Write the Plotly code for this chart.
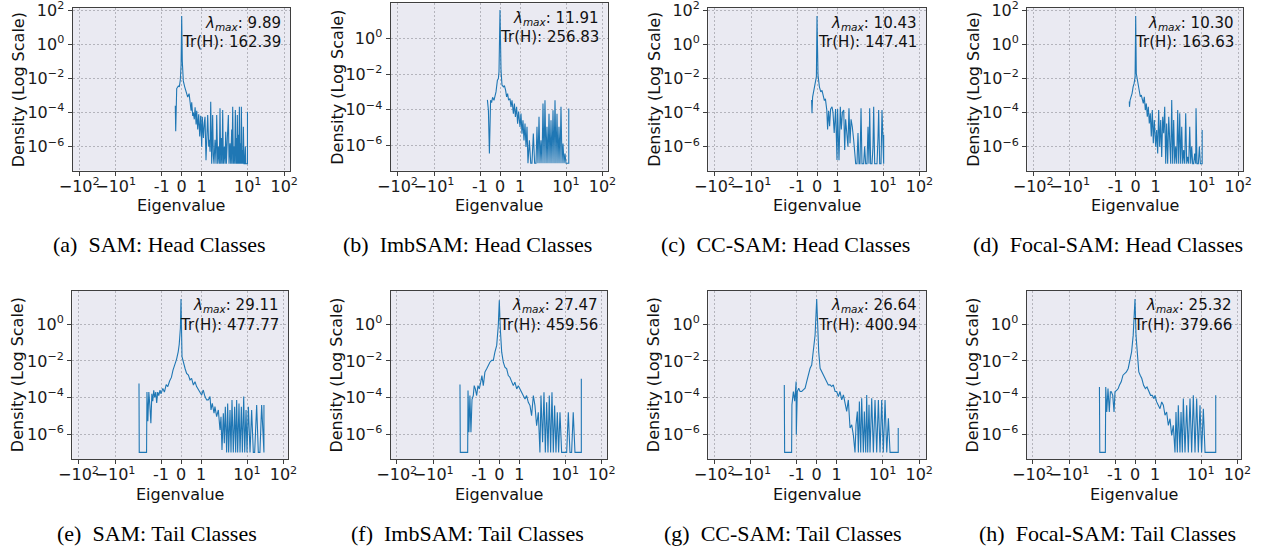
import numpy as np
import plotly.graph_objects as go

W, H = 1264, 553

# ---------------- data (eigenvalue, log10 density) ----------------
# (a) SAM: Head Classes
xa = [-0.32, -0.30, -0.25, -0.17, -0.12, -0.07, -0.03, 0.0, 0.03, 0.08,
      0.15, 0.22, 0.30, 0.37, 0.42, 0.47, 0.50, 0.55, 0.58, 0.63,
      0.67, 0.72, 0.75, 0.80, 0.85, 0.90, 0.95, 1.0,
      1.03, 1.09, 1.14, 1.18, 1.24, 1.31, 1.35, 1.42, 1.47, 1.52,
      1.57, 1.65, 1.73, 1.79, 1.85, 1.95, 2.05, 2.12, 2.23, 2.30,
      2.42, 2.50, 2.59, 2.68, 2.77, 2.86, 2.96, 3.11, 3.21, 3.33,
      3.44, 3.61, 3.80, 3.93, 4.13, 4.27, 4.49, 4.56, 4.72, 4.88,
      5.04, 5.22, 5.39, 5.57, 5.77, 5.86, 5.95, 6.16, 6.37, 6.47,
      6.59, 6.81, 7.04, 7.16, 7.28, 7.53, 7.78, 7.91, 8.05, 8.32,
      8.60, 8.90, 9.05, 9.51, 9.89, 9.89]
ya = [-3.6, -5.1, -2.6, -2.45, -2.5, -2.1, -1.2, 1.65, -1.0, -2.15,
      -2.5, -2.8, -3.1, -2.9, -3.7, -3.9, -3.4, -4.2, -4.0, -4.4,
      -3.7, -4.7, -3.9, -5.0, -4.1, -5.4, -4.2, -6.0,
      -4.25, -5.5, -4.6, -4.25, -6.8, -4.8, -4.15, -6.0, -5.6, -6.3,
      -3.37, -7, -4.15, -6.5, -7, -5.6, -7, -4.15, -7, -6.0,
      -7, -3.76, -7, -5.5, -7, -3.86, -7, -6.0, -7, -5.13,
      -7, -5.5, -4.15, -7, -5.8, -7, -5.0, -7, -3.67, -7,
      -6.0, -7, -3.86, -7, -5.5, -7, -4.15, -7, -5.3, -7,
      -3.67, -7, -5.8, -7, -3.67, -7, -6.2, -7, -4.84, -7,
      -7, -6.0, -7, -7, -7, -3.96]

# (b) ImbSAM: Head Classes
xb = [-0.63, -0.58, -0.53, -0.47, -0.42, -0.37, -0.30, -0.25, -0.20, -0.13,
      -0.08, -0.05, 0.0, 0.05, 0.10, 0.17, 0.22, 0.28, 0.33, 0.38,
      0.43, 0.50, 0.55, 0.60, 0.67, 0.72, 0.77, 0.83, 0.88, 0.93,
      1.0,
      1.05, 1.105, 1.16, 1.22, 1.285, 1.35, 1.42, 1.49, 1.60, 1.71,
      1.82, 1.95, 2.08, 2.23, 2.34, 2.46, 2.59, 2.72, 2.86, 3.01,
      3.16, 3.33, 3.49, 3.68, 3.86, 4.06, 4.27, 4.49, 4.72, 4.96,
      5.22, 5.49, 5.77, 6.06, 6.37, 6.70, 7.04, 7.41, 7.78, 8.19,
      8.60, 9.05, 9.51, 10.0, 10.88, 11.91, 11.91]
yb = [-3.45, -4.03, -6.46, -3.47, -3.6, -3.3, -3.47, -3.28, -3.0, -2.34,
      -2.25, -1.87, 1.59, -1.78, -2.62, -2.72, -2.65, -2.9, -3.28, -3.1,
      -3.47, -3.37, -3.84, -3.47, -4.22, -3.65, -4.4, -3.84, -4.78, -4.1,
      -4.96,
      -4.22, -5.34, -4.59, -5.72, -4.78, -6.09, -4.96, -7, -5.72, -7,
      -7, -5.34, -7, -7, -4.96, -7, -4.4, -7, -5.72, -7,
      -3.65, -7, -3.47, -7, -4.96, -7, -4.22, -7, -4.59, -7,
      -4.03, -7, -3.47, -7, -4.22, -7, -4.96, -7, -3.84, -7,
      -5.9, -7, -6.46, -7, -7, -7, -3.93]

# (c) CC-SAM: Head Classes
xc = [-0.27, -0.25, -0.22, -0.15, -0.08, -0.03, 0.0, 0.05, 0.12, 0.19,
      0.25, 0.32, 0.37, 0.42, 0.49, 0.53, 0.58, 0.63, 0.68, 0.75,
      0.80, 0.86, 0.93, 1.0,
      1.03, 1.105, 1.18, 1.24, 1.31, 1.40, 1.47, 1.54, 1.65, 1.73,
      1.82, 1.92, 2.02, 2.15, 2.30, 2.42, 2.55, 2.72, 2.86, 3.01,
      3.16, 3.33, 3.49, 3.80, 3.99, 4.20, 4.49, 4.72, 4.96, 5.13,
      5.39, 5.77, 6.06, 6.27, 6.59, 6.92, 7.41, 7.78, 8.05, 8.46,
      9.05, 9.51, 10.0, 10.43, 10.43]
yc = [-3.27, -4.05, -3.1, -2.7, -2.4, -1.9, 1.65, -1.8, -2.5, -2.8,
      -2.7, -3.1, -3.3, -3.2, -3.86, -5.0, -3.9, -4.8, -3.8, -3.67,
      -4.0, -5.2, -3.8, -6.78,
      -3.8, -6.8, -3.67, -5.0, -4.0, -3.86, -6.2, -4.4, -5.22, -6.0,
      -3.76, -5.8, -4.4, -4.84, -5.6, -6.5, -7, -7, -5.2, -7,
      -7, -3.76, -7, -7, -6.0, -7, -7, -4.84, -7, -3.76,
      -7, -7, -6.0, -3.67, -7, -7, -7, -5.5, -3.86, -7,
      -7, -3.86, -7, -7, -5.3]

# (d) Focal-SAM: Head Classes
xd = [-0.32, -0.31, -0.28, -0.23, -0.18, -0.13, -0.08, -0.03, 0.0, 0.03,
      0.08, 0.13, 0.18, 0.23, 0.28, 0.33, 0.38, 0.43, 0.48, 0.53,
      0.58, 0.63, 0.68, 0.73, 0.78, 0.83, 0.88, 0.93, 1.0,
      1.05, 1.105, 1.16, 1.22, 1.285, 1.35, 1.42, 1.49, 1.57, 1.65,
      1.73, 1.82, 1.92, 2.02, 2.12, 2.23, 2.34, 2.46, 2.59, 2.72,
      2.86, 3.01, 3.16, 3.33, 3.49, 3.68, 3.86, 4.06, 4.27, 4.49,
      4.72, 4.96, 5.22, 5.49, 5.77, 6.06, 6.37, 6.70, 7.04, 7.41,
      7.53, 7.91, 8.46, 8.90, 9.36, 9.80, 10.30, 10.30]
yd = [-3.35, -3.67, -3.27, -3.08, -2.88, -2.5, -2.3, -1.91, 1.65, -1.72,
      -2.1, -2.55, -2.79, -3.08, -2.98, -3.27, -3.47, -3.08, -3.86, -3.47,
      -4.25, -3.67, -4.64, -4.05, -5.41, -3.86, -5.8, -4.44, -6.0,
      -5.03, -6.4, -3.86, -6.0, -4.44, -6.6, -4.25, -5.22, -3.67, -7,
      -4.64, -7, -4.25, -6.2, -7, -3.27, -7, -4.44, -7, -6.0,
      -7, -3.86, -7, -4.05, -7, -4.84, -7, -6.2, -7, -4.05,
      -7, -6.6, -7, -4.84, -7, -6.0, -7, -7, -6.4, -7,
      -3.76, -7, -7, -6.0, -7, -7, -7, -5.03]

# (e) SAM: Tail Classes
xe = [-3.01, -2.97, -2.06, -2.02, -1.93, -1.84, -1.75, -1.66, -1.58, -1.51,
      -1.44, -1.37, -1.30, -1.24, -1.18, -1.12, -1.05, -1.0, -0.91, -0.83,
      -0.74, -0.66, -0.57, -0.48, -0.40, -0.31, -0.22, -0.14, -0.09, -0.03,
      0.0,
      0.05, 0.12, 0.20, 0.28, 0.37, 0.45, 0.53, 0.62, 0.70,
      0.78, 0.87, 0.95, 1.03, 1.12, 1.22, 1.33, 1.44, 1.57, 1.65,
      1.76, 1.92, 2.01, 2.19, 2.38, 2.59, 2.72, 2.86, 3.06, 3.21,
      3.38, 3.61, 3.80, 3.99, 4.27, 4.49, 4.72, 5.04, 5.39, 5.67,
      5.96, 6.27, 6.70, 7.05, 7.54, 7.93, 8.48, 8.92, 9.53, 10.0,
      10.9, 12.1, 13.4, 14.9, 16.2, 18.4, 20.4, 22.6, 25.2, 28.0,
      29.11, 29.11]
ye = [-3.23, -7, -7, -3.7, -5.3, -3.7, -4.4, -5.4, -3.8, -4.2,
      -3.6, -4.0, -3.7, -4.3, -3.7, -3.9, -3.6, -3.8, -3.5, -3.7,
      -3.3, -3.4, -3.1, -2.9, -2.5, -2.2, -1.9, -1.5, -1.1, -0.2,
      1.38,
      -1.77, -2.13, -2.4, -2.68, -2.77, -3.04, -2.95, -3.32, -3.13,
      -3.4, -3.59, -3.77, -3.86, -3.59, -3.95, -4.13, -4.13, -3.95, -4.68,
      -4.32, -4.86, -4.5, -5.05, -4.68, -5.77, -5.05, -6.87, -4.86, -6.5,
      -4.5, -7, -4.32, -7, -4.68, -7, -4.13, -7, -4.5, -7,
      -4.13, -7, -4.32, -7, -4.5, -7, -3.95, -7, -4.68, -7,
      -4.5, -7, -4.68, -7, -7, -4.41, -7, -7, -4.41, -7,
      -7, -4.41]

# (f) ImbSAM: Tail Classes
xf = [-2.63, -2.59, -1.79, -1.76, -1.68, -1.60, -1.52, -1.44, -1.35, -1.29,
      -1.22, -1.14, -1.07, -1.0, -0.93, -0.87, -0.80, -0.72, -0.63, -0.55,
      -0.47, -0.38, -0.30, -0.22, -0.13, -0.05, 0.0, 0.05, 0.12, 0.20,
      0.28, 0.37, 0.45, 0.53, 0.62, 0.70, 0.78, 0.87, 0.95, 1.03,
      1.12, 1.22, 1.33, 1.44, 1.57, 1.71, 1.85, 2.02, 2.19, 2.38,
      2.59, 2.81, 2.96, 3.21, 3.44, 3.68, 3.93, 4.20, 4.49, 4.80,
      5.13, 5.49, 5.86, 6.27, 6.70, 7.16, 7.66, 8.32, 9.05, 9.84,
      10.9, 12.1, 13.4, 14.9, 16.5, 18.4, 20.4, 22.7, 25.2, 27.47,
      27.47]
yf = [-3.29, -7, -7, -3.62, -5.9, -3.89, -5.9, -4.1, -3.89, -3.35,
      -3.53, -3.89, -3.35, -3.53, -3.16, -2.8, -3.35, -2.61, -2.43, -2.25,
      -2.07, -1.97, -1.97, -1.52, -1.15, -0.05, 1.32, -0.24, -1.52, -2.07,
      -2.34, -2.43, -2.8, -2.89, -3.16, -3.35, -3.16, -3.53, -3.35, -3.53,
      -3.71, -3.89, -4.08, -3.89, -4.26, -4.44, -4.99, -3.89, -4.44, -5.54,
      -4.81, -7, -3.89, -6.45, -3.71, -7, -4.26, -7, -3.89, -7,
      -3.71, -7, -4.44, -7, -4.81, -7, -4.81, -7, -7, -7,
      -7, -4.81, -7, -7, -4.81, -7, -7, -7, -7, -7,
      -2.98]

# (g) CC-SAM: Tail Classes
xg = [-1.86, -1.83, -1.29, -1.27, -1.18, -1.105, -1.03, -1.02, -0.97, -0.90,
      -0.83, -0.75, -0.67, -0.58, -0.50, -0.42, -0.33, -0.25, -0.17, -0.08,
      0.0, 0.05, 0.10, 0.17, 0.25, 0.33, 0.42, 0.50, 0.58, 0.67,
      0.75, 0.83, 0.92, 1.0, 1.087, 1.18, 1.285, 1.40, 1.52, 1.65,
      1.79, 1.95, 2.12, 2.30, 2.50, 2.63, 2.81, 2.96, 3.11, 3.33,
      3.49, 3.80, 3.99, 4.27, 4.49, 4.72, 5.04, 5.30, 5.77, 6.27,
      6.81, 7.41, 8.05, 8.75, 9.51, 10.4, 11.6, 12.9, 14.3, 15.9,
      19.6, 24.2, 26.64, 26.64]
yg = [-3.31, -7, -7, -4.4, -3.67, -4.2, -3.13, -6.04, -3.67, -3.49,
      -3.67, -3.67, -3.58, -3.49, -3.13, -2.76, -2.4, -2.22, -1.49, -0.58,
      1.38, -0.58, -1.49, -2.4, -2.58, -2.76, -2.95, -3.13, -3.31, -3.31,
      -3.4, -3.31, -3.67, -3.67, -3.95, -3.67, -4.13, -3.86, -4.4, -4.76,
      -4.13, -5.67, -5.49, -6.04, -7, -5.49, -4.76, -7, -4.22, -7,
      -4.04, -7, -4.76, -7, -3.86, -7, -4.4, -7, -4.04, -7,
      -4.13, -7, -4.13, -7, -4.13, -7, -4.13, -7, -5.13, -7,
      -7, -7, -7, -5.67]

# (h) Focal-SAM: Tail Classes
xh = [-2.18, -2.14, -1.62, -1.59, -1.51, -1.42, -1.33, -1.26, -1.20, -1.12,
      -1.05, -1.0, -0.91, -0.84, -0.78, -0.69, -0.60, -0.52, -0.43, -0.34,
      -0.26, -0.17, -0.09, 0.0, 0.05, 0.12, 0.19, 0.26, 0.34, 0.43,
      0.52, 0.60, 0.69, 0.78, 0.86, 0.95, 1.0, 1.087, 1.18, 1.285,
      1.40, 1.52, 1.65, 1.79, 1.95, 2.12, 2.30, 2.50, 2.72, 2.86,
      3.06, 3.21, 3.49, 3.68, 3.93, 4.13, 4.49, 4.88, 5.30, 5.77,
      6.27, 6.81, 7.41, 8.05, 8.75, 9.51, 10.4, 11.6, 12.9, 14.3,
      17.7, 21.8, 25.32, 25.32]
yh = [-3.42, -7, -7, -3.42, -4.79, -3.51, -4.79, -3.69, -3.69, -3.88,
      -4.79, -3.69, -3.6, -3.51, -3.33, -3.14, -2.78, -2.69, -2.6, -2.41,
      -2.05, -1.5, -0.59, 1.39, -0.59, -1.86, -2.6, -2.78, -2.96, -3.33,
      -3.51, -3.42, -3.69, -3.88, -3.88, -4.06, -3.88, -4.24, -4.42, -4.61,
      -4.24, -4.42, -4.97, -4.79, -5.52, -5.16, -6.07, -5.52, -7, -4.79,
      -7, -4.42, -7, -4.79, -7, -4.06, -7, -4.42, -7, -4.06,
      -7, -3.88, -7, -4.06, -7, -4.42, -7, -4.61, -7, -7,
      -7, -7, -7, -3.88]

lam_max = ["9.89", "11.91", "10.43", "10.30", "29.11", "27.47", "26.64", "25.32"]
trace_h = ["162.39", "256.83", "147.41", "163.63", "477.77", "459.56", "400.94", "379.66"]
captions = ["(a)\u00a0 SAM: Head Classes", "(b)\u00a0 ImbSAM: Head Classes",
            "(c)\u00a0 CC-SAM: Head Classes", "(d)\u00a0 Focal-SAM: Head Classes",
            "(e)\u00a0 SAM: Tail Classes", "(f)\u00a0 ImbSAM: Tail Classes",
            "(g)\u00a0 CC-SAM: Tail Classes", "(h)\u00a0 Focal-SAM: Tail Classes"]

x_tick_values = [-100, -10, -1, 0, 1, 10, 100]
x_tick_text = ["\u221210<sup>2</sup>", "\u221210<sup>1</sup>", "-1", "0", "1",
               "10<sup>1</sup>", "10<sup>2</sup>"]


# symmetric-log style transform of the eigenvalue axis (as in the figure)
def sym(v):
    v = np.asarray(v, dtype=float)
    a = np.abs(v)
    la = np.log10(np.maximum(a, 1.0))
    u = np.where(a <= 1, 20 * a, np.where(a <= 10, 20 + 46 * la, 66 + 36.5 * (la - 1)))
    return np.sign(v) * u


series = [(xa, ya), (xb, yb), (xc, yc), (xd, yd), (xe, ye), (xf, yf), (xg, yg), (xh, yh)]

# layout geometry (pixels): left, right, zero-x, top, bottom, y-range(log), y-ticks, caption x
geo = [
    (72.7, 290.0, 181.7, 8.3, 170.7, [-7.41, 2.10], [2, 0, -2, -4, -6], 159),
    (390.7, 607.7, 500.0, 3.3, 170.7, [-7.42, 1.97], [0, -2, -4, -6], 468),
    (708.3, 926.0, 817.0, 8.3, 170.7, [-7.41, 2.10], [2, 0, -2, -4, -6], 785),
    (1027.3, 1243.3, 1135.7, 8.3, 170.7, [-7.41, 2.10], [2, 0, -2, -4, -6], 1108),
    (72.3, 288.3, 181.0, 290.7, 459.0, [-7.36, 1.84], [0, -2, -4, -6], 157),
    (390.7, 607.3, 499.3, 290.7, 459.0, [-7.36, 1.84], [0, -2, -4, -6], 468),
    (708.3, 926.0, 816.7, 290.7, 459.0, [-7.36, 1.84], [0, -2, -4, -6], 783),
    (1026.7, 1241.0, 1135.0, 290.7, 459.0, [-7.36, 1.84], [0, -2, -4, -6], 1107),
]

AX = "#3f3f3f"
fig = go.Figure()
layout = {}
annotations = []
for i, ((xs, ys), g) in enumerate(zip(series, geo)):
    k = i + 1
    L, R, Z, T, B, yr, yt, capx = g
    xn = "x" if k == 1 else f"x{k}"
    yn = "y" if k == 1 else f"y{k}"
    fig.add_trace(go.Scatter(
        x=sym(xs), y=10 ** np.asarray(ys, dtype=float), mode="lines",
        line=dict(color="#1f77b4", width=1.1), xaxis=xn, yaxis=yn,
        showlegend=False, hoverinfo="skip"))
    common = dict(showline=True, mirror=True, linecolor=AX, linewidth=1.4,
                  ticks="outside", ticklen=4, tickwidth=1, tickcolor=AX,
                  showgrid=True, gridcolor="#b4b4bc", griddash="2px,2px", gridwidth=0.7,
                  zeroline=False, tickangle=0, automargin=False,
                  tickfont=dict(size=16, color="#1a1a1a"))
    layout["xaxis" if k == 1 else f"xaxis{k}"] = dict(
        domain=[L / W, R / W], range=[L - Z, R - Z], anchor=yn,
        tickmode="array", tickvals=list(sym(x_tick_values)), ticktext=x_tick_text,
        ticklabelstandoff=-3, **common)
    layout["yaxis" if k == 1 else f"yaxis{k}"] = dict(
        domain=[1 - B / H, 1 - T / H], type="log", range=yr, anchor=xn,
        tickmode="array", tickvals=[10.0 ** e for e in yt],
        ticktext=[("10<sup>%s</sup>" % (str(e).replace("-", "\u2212"))) for e in yt],
        **common)
    # stats text
    annotations.append(dict(xref=f"{xn} domain", yref=f"{yn} domain", x=1, y=1,
                            xanchor="right", yanchor="middle", xshift=-7, yshift=-15,
                            text=f"<i>\u03bb</i><sub><i>max</i></sub>: {lam_max[i]}",
                            showarrow=False, font=dict(size=15, color="#111")))
    annotations.append(dict(xref=f"{xn} domain", yref=f"{yn} domain", x=1, y=1,
                            xanchor="right", yanchor="middle", xshift=-7, yshift=-34,
                            text=f"Tr(H): {trace_h[i]}",
                            showarrow=False, font=dict(size=15, color="#111")))
    # axis titles
    annotations.append(dict(xref="paper", yref="paper", x=(L + R) / 2 / W,
                            y=1 - (B + 35) / H, xanchor="center", yanchor="middle",
                            text="Eigenvalue", showarrow=False,
                            font=dict(size=16, color="#111")))
    annotations.append(dict(xref="paper", yref="paper", x=(L - 54) / W,
                            y=1 - (T + B) / 2 / H, xanchor="center", yanchor="middle",
                            text="Density (Log Scale)", textangle=-90, showarrow=False,
                            font=dict(size=16, color="#111")))
    # caption
    capy = 244 if k <= 4 else 533
    annotations.append(dict(xref="paper", yref="paper", x=capx / W, y=1 - capy / H,
                            xanchor="center", yanchor="middle", text=captions[i],
                            showarrow=False,
                            font=dict(family="Liberation Serif", size=22, color="#000")))

fig.update_layout(**layout)
fig.update_layout(
    width=W, height=H, margin=dict(l=0, r=0, t=0, b=0, autoexpand=False),
    paper_bgcolor="white", plot_bgcolor="#EAEAF2",
    font=dict(family="DejaVu Sans", size=15, color="#111"),
    annotations=annotations, showlegend=False)

post = ("document.documentElement.style.margin='0px';"
        "document.body.style.margin='0px';document.body.style.padding='0px';")
fig.write_html("out.html", config={"displayModeBar": False}, post_script=post)
